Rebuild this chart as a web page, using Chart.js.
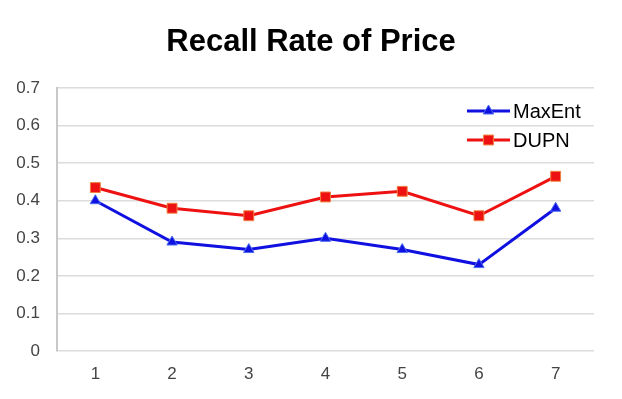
<!DOCTYPE html>
<html>
<head>
<meta charset="utf-8">
<script src="https://cdn.jsdelivr.net/npm/chart.js@4/dist/chart.umd.min.js"></script>
<style>
html,body{margin:0;padding:0;background:#fff}
#wrap{width:622px;height:399px}
</style>
</head>
<body>
<div id="wrap"><canvas id="myChart" width="622" height="399"></canvas></div>
<script>
const titleText='Recall Rate of Price'
const categories=['1','2','3','4','5','6','7']
const maxEnt=[0.40,0.29,0.27,0.30,0.27,0.23,0.38]
const dupn=[0.435,0.38,0.36,0.41,0.425,0.36,0.465]
const yTicks=[0,0.1,0.2,0.3,0.4,0.5,0.6,0.7]
const FONT='"Liberation Sans", Arial, sans-serif'

// title centred on the whole canvas, not the plot area
const pageTitle={
  id:'pageTitle',
  afterDraw(chart){
    const ctx=chart.ctx
    ctx.save()
    ctx.fillStyle='#000'
    ctx.font='bold 31px '+FONT
    ctx.textAlign='center'
    ctx.textBaseline='alphabetic'
    ctx.fillText(titleText,chart.width/2,51)
    ctx.restore()
  }
}

// legend drawn as line + marker, like the original
const lineLegend={
  id:'lineLegend',
  afterDraw(chart){
    const ctx=chart.ctx
    const a=chart.chartArea
    chart.data.datasets.forEach((ds,i)=>{
      const x0=a.right-127, x1=a.right-84, y=a.top+23+i*29
      ctx.save()
      ctx.strokeStyle=ds.borderColor
      ctx.lineWidth=3
      ctx.beginPath()
      ctx.moveTo(x0,y)
      ctx.lineTo(x1,y)
      ctx.stroke()
      ctx.fillStyle=ds.pointBackgroundColor
      ctx.strokeStyle=ds.pointBorderColor
      ctx.lineWidth=1
      Chart.helpers.drawPoint(ctx,{pointStyle:ds.pointStyle,radius:ds.pointRadius,borderWidth:1},(x0+x1)/2,y)
      ctx.fillStyle='#000'
      ctx.font='20px '+FONT
      ctx.textBaseline='middle'
      ctx.fillText(ds.label,x1+3,y+1)
      ctx.restore()
    })
  }
}

new Chart(document.getElementById('myChart'),{
  type:'line',
  data:{
    labels:categories,
    datasets:[{
      label:'MaxEnt',
      data:maxEnt,
      borderColor:'#1010e0',
      borderWidth:3,
      pointStyle:'triangle',
      pointRadius:6,
      pointBackgroundColor:'#1010e0',
      pointBorderColor:'#4a6cf0',
      pointBorderWidth:1,
      tension:0
    },{
      label:'DUPN',
      data:dupn,
      borderColor:'#ee1111',
      borderWidth:3,
      pointStyle:'rect',
      pointRadius:7,
      pointBackgroundColor:'#ee1111',
      pointBorderColor:'#f08040',
      pointBorderWidth:1,
      tension:0
    }]
  },
  plugins:[pageTitle,lineLegend],
  options:{
    responsive:false,
    animation:false,
    layout:{padding:{left:0,right:28,top:88,bottom:0}},
    plugins:{
      legend:{display:false},
      tooltip:{enabled:false},
      title:{display:false}
    },
    scales:{
      x:{
        offset:true,
        grid:{display:false,drawTicks:false},
        border:{display:false},
        ticks:{color:'#444',padding:13,font:{family:FONT,size:17}},
        afterFit(s){s.height=48}
      },
      y:{
        min:0,max:0.7,
        afterBuildTicks(s){s.ticks=yTicks.map(v=>({value:v}))},
        grid:{color:'#dcdcdc',lineWidth:1.5,drawTicks:false},
        border:{display:true,color:'#c8c8c8',width:2},
        ticks:{color:'#444',padding:17,font:{family:FONT,size:17},
          callback:v=>String(Math.round(v*10)/10)},
        afterFit(s){s.width=57}
      }
    }
  }
})
</script>
</body>
</html>
